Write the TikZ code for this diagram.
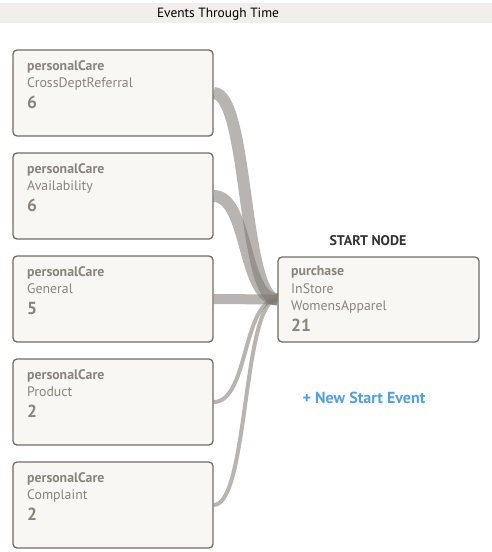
\documentclass[tikz,border=0pt]{standalone}
\usepackage{fontspec}
\setmainfont{PT Sans}
\usetikzlibrary{backgrounds}
\definecolor{boxfill}{RGB}{248,247,243}
\definecolor{boxline}{RGB}{112,108,104}
\definecolor{boxtext}{RGB}{138,132,126}
\definecolor{barfill}{RGB}{240,239,235}
\definecolor{flow}{RGB}{125,119,113}
\definecolor{linkblue}{RGB}{80,158,240}
\tikzset{
  evbox/.style={draw=boxline,fill=boxfill,line width=1.3pt,rounded corners=4pt,minimum width=200pt,minimum height=86pt,inner sep=0pt},
  evtext/.style={anchor=north west,align=left,text=boxtext,inner sep=0pt,font=\fontsize{13.8}{17.3}\selectfont},
  ribbon/.style={draw=flow,draw opacity=0.55,line cap=butt}
}
\newcommand{\evcount}[1]{{\fontsize{17.5}{22}\selectfont\bfseries #1}}
\begin{document}
\begin{tikzpicture}[x=1pt,y=-1pt]
  \useasboundingbox (0,0) rectangle (492,552);
  \fill[barfill] (0,3) rectangle (492,23);
  \node[font=\fontsize{13.4}{15}\selectfont] (title) at (218,14) {Events Through Time};

  \node[evbox] (b1) at (113,93) {};
  \node[evbox] (b2) at (113,196) {};
  \node[evbox] (b3) at (113,299) {};
  \node[evbox] (b4) at (113,402) {};
  \node[evbox] (b5) at (113,505) {};
  \node[evbox,minimum width=201pt,minimum height=85pt] (start) at (378.5,299.5) {};

  \node[evtext] (t1) at (27,60) {\textbf{personalCare}\\CrossDeptReferral\\[4pt]\evcount{6}};
  \node[evtext] (t2) at (27,163) {\textbf{personalCare}\\Availability\\[4pt]\evcount{6}};
  \node[evtext] (t3) at (27,266) {\textbf{personalCare}\\General\\[4pt]\evcount{5}};
  \node[evtext] (t4) at (27,369) {\textbf{personalCare}\\Product\\[4pt]\evcount{2}};
  \node[evtext] (t5) at (27,472) {\textbf{personalCare}\\Complaint\\[4pt]\evcount{2}};
  \node[evtext] (ts) at (291,266) {\textbf{purchase}\\InStore\\WomensApparel\\[4pt]\evcount{21}};

  \node[font=\fontsize{14}{16}\selectfont\bfseries,text={rgb,255:red,50;green,50;blue,50}] (startlabel) at (368,241) {START NODE};
  \node[font=\fontsize{16}{18}\selectfont\bfseries,text=linkblue] (newevent) at (364,398) {+ New Start Event};

  \begin{scope}[on background layer]
    \draw[ribbon,line width=12pt] (b1.east) .. controls +(35,0) and +(-35,0) .. (start.west);
    \draw[ribbon,line width=12pt] (b2.east) .. controls +(35,0) and +(-35,0) .. (start.west);
    \draw[ribbon,line width=10pt] (b3.east) .. controls +(35,0) and +(-35,0) .. (start.west);
    \draw[ribbon,line width=4pt] (b4.east) .. controls +(35,0) and +(-35,0) .. (start.west);
    \draw[ribbon,line width=4pt] (b5.east) .. controls +(35,0) and +(-35,0) .. (start.west);
  \end{scope}
\end{tikzpicture}
\end{document}
